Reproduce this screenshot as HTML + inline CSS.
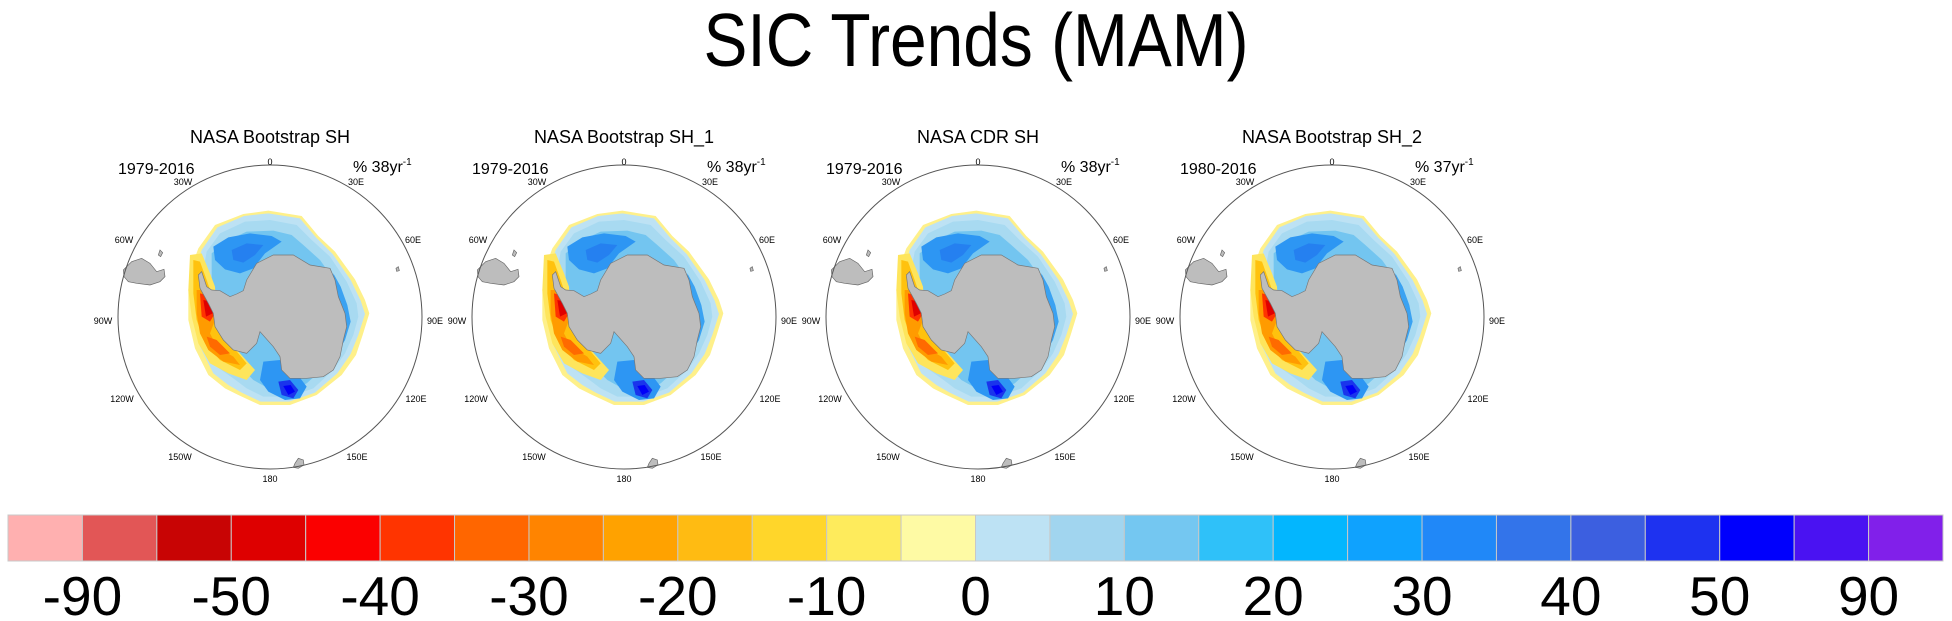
<!DOCTYPE html>
<html><head><meta charset="utf-8">
<style>
html,body{margin:0;padding:0;background:#fff;}
svg{display:block;font-family:"Liberation Sans",Arial,sans-serif;}
</style></head>
<body>
<svg id="root" width="1952" height="621" viewBox="0 0 1952 621" xmlns="http://www.w3.org/2000/svg">
<defs>
<g id="mapsym">
  <g transform="translate(-170,-177) scale(0.33333)">
    <path d="M70,390 L95,365 L125,355 L150,370 L170,395 L192,388 L195,410 L180,425 L150,435 L110,430 L85,425 L72,410 Z" fill="#bdbdbd" stroke="#666" stroke-width="2"/>
    <path d="M180,330 L188,338 L182,350 L175,345 Z" fill="#bdbdbd" stroke="#666" stroke-width="2"/>
    <path d="M585,970 L595,955 L610,960 L612,975 L595,985 L580,982 Z" fill="#bdbdbd" stroke="#666" stroke-width="2"/>
    <path d="M888,385 L895,380 L898,392 L890,394 Z" fill="#bdbdbd" stroke="#666" stroke-width="2"/>
    <path d="M295,325 L345,255 L430,222 L505,212 L605,228 L655,288 L705,335 L765,418 L795,480 L808,520 L788,585 L768,645 L725,705 L650,765 L570,795 L480,795 L415,765 L375,745 L325,705 L285,625 L265,540 L265,450 L275,380 Z" fill="#fef08a"/>
    <path d="M305,330 L352,262 L432,228 L505,220 L600,235 L648,292 L698,342 L752,420 L782,482 L795,522 L775,585 L752,642 L712,700 L645,758 L568,785 L482,785 L425,758 L385,735 L340,700 L300,620 L280,540 L285,450 L290,385 Z" fill="#bde2f4"/>
    <path d="M320,335 L360,280 L435,245 L510,240 L590,255 L635,300 L690,350 L740,425 L770,490 L775,530 L760,585 L735,640 L700,690 L640,745 L570,770 L490,770 L440,745 L400,715 L350,680 L320,610 L300,540 L305,450 L310,390 Z" fill="#a8daf1"/>
    <path d="M335,340 L375,305 L440,275 L520,272 L575,285 L610,315 L660,360 L710,430 L738,495 L740,535 L725,590 L700,640 L670,685 L620,730 L570,750 L505,745 L460,720 L430,690 L390,650 L350,595 L330,520 L335,450 Z" fill="#73c5f0"/>
    <path d="M340,320 L385,292 L450,280 L515,288 L545,305 L495,340 L460,385 L420,400 L375,388 L345,360 Z" fill="#2d96f3"/>
    <path d="M395,330 L440,310 L490,315 L465,345 L430,368 L400,360 Z" fill="#2580f0"/>
    <path d="M700,400 L722,440 L742,495 L752,545 L735,600 L712,640 L700,620 L718,570 L725,530 L712,470 L700,430 Z" fill="#3aa2f2"/>
    <path d="M490,665 L540,660 L590,700 L620,740 L600,775 L555,780 L505,755 L480,720 Z" fill="#2d96f3"/>
    <path d="M535,725 L570,720 L595,750 L580,775 L545,765 Z" fill="#1a34ec"/>
    <path d="M550,738 L572,735 L585,755 L565,765 Z" fill="#0000f8"/>
    <path d="M270,345 L305,340 L330,400 L345,440 L350,520 L370,580 L420,640 L465,690 L440,720 L385,700 L330,670 L295,610 L275,530 L265,450 Z" fill="#fee55c"/>
    <path d="M280,360 L300,365 L320,420 L340,480 L350,560 L390,610 L440,670 L420,690 L360,660 L315,610 L290,540 L280,460 Z" fill="#ffc20e"/>
    <path d="M290,450 L320,450 L345,490 L345,540 L330,580 L350,620 L400,650 L420,675 L370,665 L325,630 L300,580 L290,520 Z" fill="#ff9b00"/>
    <path d="M300,460 L335,470 L345,520 L330,545 L305,530 Z" fill="#ff3300"/>
    <path d="M310,480 L332,485 L338,520 L318,530 Z" fill="#e00000"/>
    <path d="M320,590 L350,600 L390,640 L360,645 L330,620 Z" fill="#ff6a00"/>
    <path d="M440,420 L470,370 L520,345 L580,345 L630,375 L690,385 L705,420 L715,470 L735,520 L740,560 L730,600 L720,650 L700,690 L670,710 L620,715 L570,715 L545,690 L540,650 L520,620 L480,575 L470,610 L440,640 L400,630 L370,600 L345,560 L340,520 L325,490 L300,445 L295,405 L305,395 L320,440 L335,450 L360,452 L390,470 L410,462 L430,452 Z" fill="#bdbdbd" stroke="#777" stroke-width="2"/>
  </g>
</g>
</defs>
<text x="976" y="66" font-size="75" text-anchor="middle" textLength="545" lengthAdjust="spacingAndGlyphs">SIC Trends (MAM)</text>
<g id="panels"></g>
<g id="colorbar"></g>
</svg>
<script>
const panelTitles = ["NASA Bootstrap SH","NASA Bootstrap SH_1","NASA CDR SH","NASA Bootstrap SH_2"];
const panelYears = ["1979-2016","1979-2016","1979-2016","1980-2016"];
const panelYrs = ["38","38","38","37"];
const cbColors = ["#ffb0b0","#e25656","#c80404","#de0000","#fb0000","#ff3400","#ff6600","#ff8400","#ffa200","#ffbb12","#ffd62a","#feeb5c","#fefaa4","#bde2f4","#a1d5ef","#74c7f1","#2fc1f9","#03b6fe","#0fa2fe","#2088f8","#3374ea","#3c5fe0","#1e32f0","#0000fd","#4a12f2","#8120ea"];
const cbLabels = ["-90","-50","-40","-30","-20","-10","0","10","20","30","40","50","90"];

const NS="http://www.w3.org/2000/svg";
function mk(tag, attrs, parent){const e=document.createElementNS(NS,tag);for(const k in attrs)e.setAttribute(k,attrs[k]);parent.appendChild(e);return e;}
const panels=document.getElementById('panels');
const centers=[270,624,978,1332], cy=317, R=152;
const lonLabels=[["0",0,-155],["30W",-87,-135],["30E",86,-135],["60W",-146,-77],["60E",143,-77],["90W",-167,4],["90E",165,4],["120W",-148,82],["120E",146,82],["150W",-90,140],["150E",87,140],["180",0,162]];
panelTitles.forEach((t,i)=>{
  const cx=centers[i];
  const g=mk('g',{},panels);
  
  
  const u=mk('use',{href:'#mapsym',transform:`translate(${cx},${cy})`},g);
  
  
  const c=mk('circle',{cx:cx,cy:cy,r:R,fill:'none',stroke:'#555','stroke-width':1},g);
  
  
  const tt=mk('text',{x:cx,y:143,'font-size':18,'text-anchor':'middle'},g);tt.textContent=t;
  
  
  const ty=mk('text',{x:cx-152,y:174,'font-size':16},g);ty.textContent=panelYears[i];
  
  
  const tu=mk('text',{x:cx+83,y:172,'font-size':16},g);
  tu.innerHTML='% '+panelYrs[i]+'yr<tspan font-size="10" dy="-7">-1</tspan>';
  
  
  lonLabels.forEach(l=>{
    const e=mk('text',{x:cx+l[1],y:cy+l[2]+3,'font-size':9,'text-anchor':'middle'},g);e.textContent=l[0];
    
    
  });
});
const cb=document.getElementById('colorbar');
const x0=8,x1=1943,y0=515,h=46,w=(x1-x0)/cbColors.length;
cbColors.forEach((col,i)=>{
  const r=mk('rect',{x:x0+i*w,y:y0,width:w,height:h,fill:col,stroke:'#c8c8c8','stroke-width':1},cb);
  
  
});
cbLabels.forEach((l,i)=>{
  const t=mk('text',{x:x0+(2*i+1)*w,y:615,'font-size':55,'text-anchor':'middle'},cb);t.textContent=l;
  
  
});
</script>
</body></html>
